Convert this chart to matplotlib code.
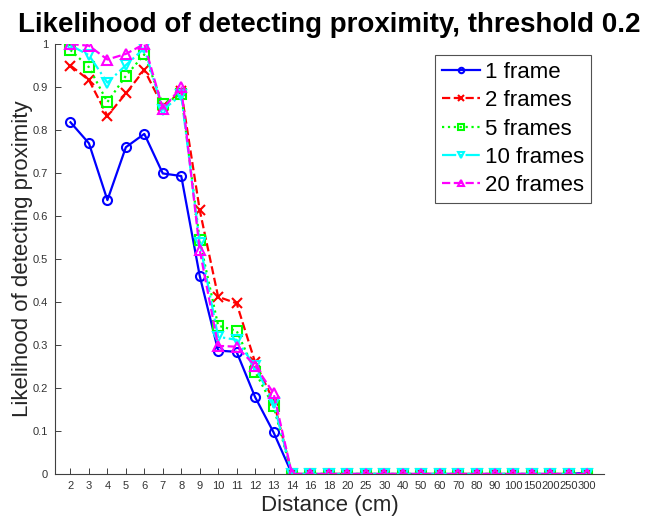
import matplotlib
matplotlib.use('Agg')
import matplotlib.pyplot as plt
import numpy as np

plt.rcParams['font.family'] = ['Liberation Sans', 'DejaVu Sans']

# Distance categories (cm), plotted at equal spacing
distances = ['2', '3', '4', '5', '6', '7', '8', '9', '10', '11', '12', '13', '14',
             '16', '18', '20', '25', '30', '40', '50', '60', '70', '80', '90',
             '100', '150', '200', '250', '300']

n_zero = 17  # points from 14 cm onward (all ~0)

frame1 = [0.818, 0.769, 0.637, 0.760, 0.791, 0.699, 0.693, 0.461, 0.287, 0.284,
          0.179, 0.097] + [0.0] * (n_zero - 1) + [0.003]
frame2 = [0.950, 0.916, 0.833, 0.885, 0.940, 0.855, 0.890, 0.614, 0.412, 0.397,
          0.260, 0.170] + [0.0] * n_zero
frame5 = [0.986, 0.946, 0.865, 0.926, 0.976, 0.860, 0.883, 0.544, 0.345, 0.333,
          0.238, 0.157] + [0.0] * n_zero
frame10 = [0.997, 0.974, 0.910, 0.951, 0.990, 0.847, 0.881, 0.537, 0.319, 0.312,
           0.250, 0.165] + [0.0] * n_zero
frame20 = [1.0, 0.996, 0.964, 0.977, 1.0, 0.850, 0.899, 0.521, 0.298, 0.296,
           0.252, 0.188] + [0.0] * n_zero

labels = ['1 frame', '2 frames', '5 frames', '10 frames', '20 frames']
yticks = [0, 0.1, 0.2, 0.3, 0.4, 0.5, 0.6, 0.7, 0.8, 0.9, 1]
ytick_labels = ['0', '0.1', '0.2', '0.3', '0.4', '0.5', '0.6', '0.7', '0.8', '0.9', '1']

series = [frame1, frame2, frame5, frame10, frame20]
colors = ['#0000ff', '#ff0000', '#00ff00', '#00ffff', '#ff00ff']
styles = ['-', '--', ':', '-.', '--']
markers = ['o', 'x', 's', 'v', '^']

x = np.arange(len(distances))

fig = plt.figure(figsize=(6.57, 5.18), dpi=100)
ax = fig.add_axes([0.0837, 0.085, 0.8355, 0.83])

for vals, c, ls, m, lab in zip(series, colors, styles, markers, labels):
    ax.plot(x, vals, linestyle=ls, color=c, marker=m, markersize=6.5,
            markerfacecolor='none', markeredgewidth=1.5, linewidth=1.6,
            label=lab)

ax.set_xlim(-0.84, 28.9)
ax.set_ylim(0, 1)
ax.set_xticks(x)
ax.set_xticklabels(distances, fontsize=8)
ax.set_yticks(yticks)
ax.set_yticklabels(ytick_labels, fontsize=8)

for side in ['top', 'right']:
    ax.spines[side].set_visible(False)
for side in ['left', 'bottom']:
    ax.spines[side].set_color('#404040')
    ax.spines[side].set_linewidth(0.8)
ax.tick_params(direction='in', length=4, width=0.7, colors='#404040',
               labelcolor='#333333', pad=5)

ax.set_xlabel('Distance (cm)', fontsize=16, color='#262626', labelpad=3)
ax.set_ylabel('Likelihood of detecting proximity', fontsize=16, color='#262626',
              labelpad=0)
ax.set_title('Likelihood of detecting proximity, threshold 0.2',
             fontsize=20, fontweight='bold', pad=9)

leg = ax.legend(loc='upper right', bbox_to_anchor=(0.976, 0.974),
                fontsize=16, frameon=True, fancybox=False, borderaxespad=0,
                handlelength=1.7, handletextpad=0.23, labelspacing=0.33,
                borderpad=0.3, markerscale=0.6)
leg.get_frame().set_edgecolor('#262626')
leg.get_frame().set_linewidth(0.8)

fig.savefig('out.png', dpi=100)
